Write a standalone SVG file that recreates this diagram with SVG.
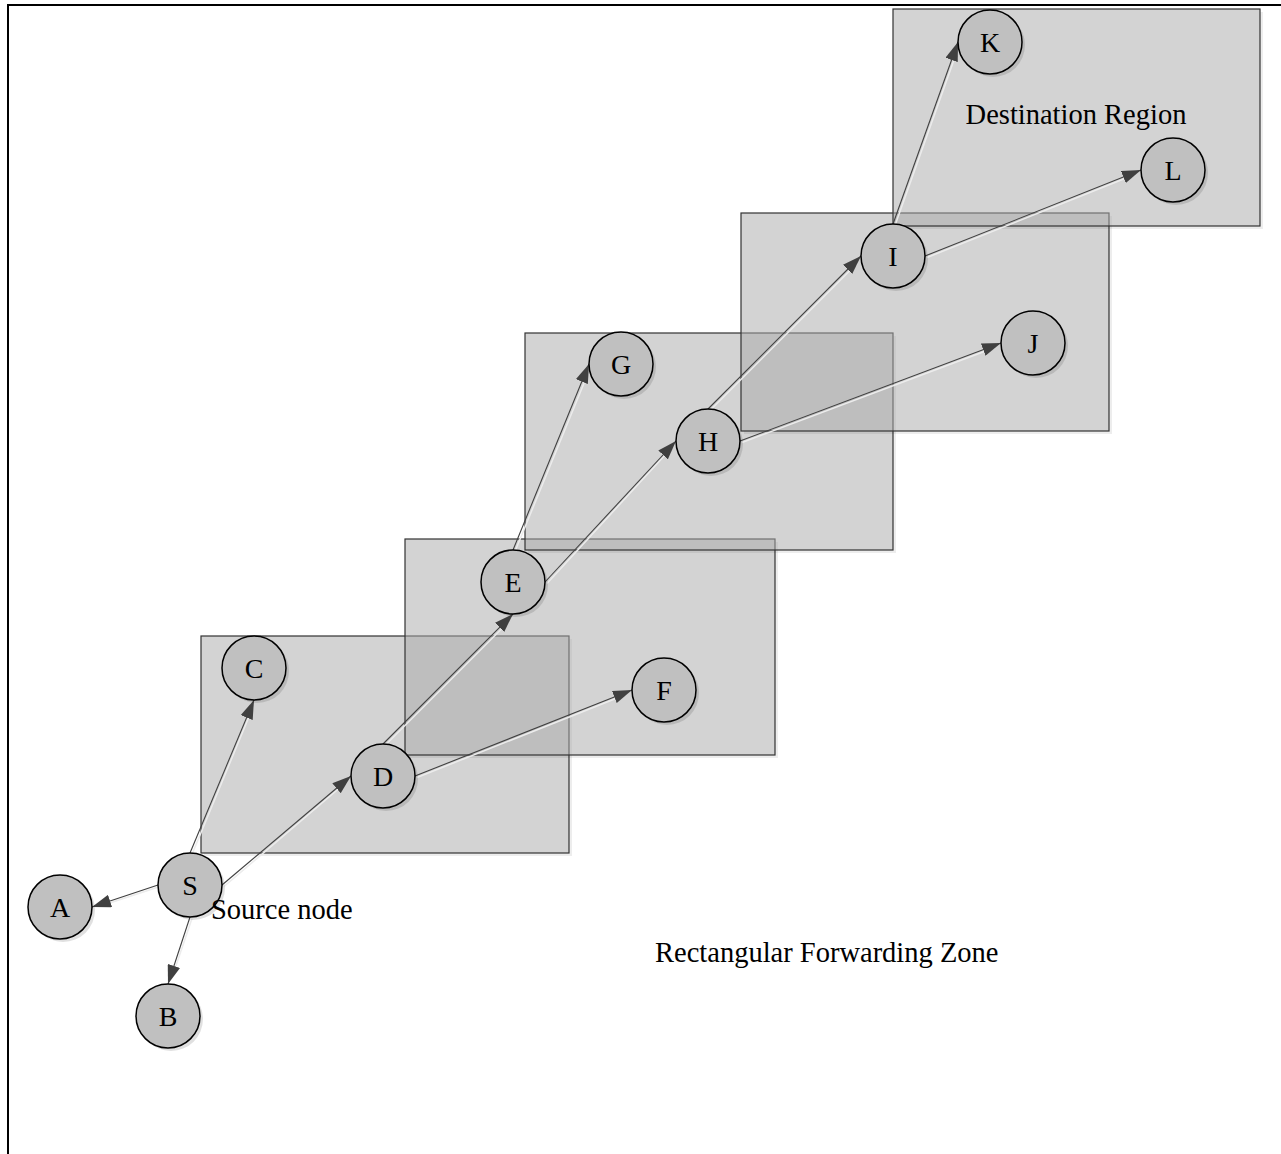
<svg xmlns="http://www.w3.org/2000/svg" width="1281" height="1154" viewBox="0 0 1281 1154">
<style>
.zone{fill:#aaaaaa;fill-opacity:0.52;stroke:#333;stroke-width:1.2}
.zsh{fill:#000;fill-opacity:0.07}
.node circle{fill:#c0c0c0;stroke:#000;stroke-width:1.5}
.node .nsh{fill:#000;opacity:0.12;stroke:none}
.lbl{font-family:"Liberation Serif","Times New Roman",serif;font-size:28px;fill:#000;text-anchor:middle}
.txt{font-family:"Liberation Serif","Times New Roman",serif;font-size:28.5px;fill:#000}
.edge line{stroke:#404040;stroke-width:1.1;fill:none}
.edge .sh line{stroke:#ececec;stroke-width:1.5}
</style>
<defs>
<marker id="arr" viewBox="0 0 19 13" refX="19" refY="6.5" markerWidth="19" markerHeight="13" markerUnits="userSpaceOnUse" orient="auto">
<path d="M0,0 L19,6.5 L0,13 Z" fill="#404040"/>
</marker>
</defs>
<rect width="1281" height="1154" fill="#fff"/>
<path d="M8,1154 L8,5 L1281,5" fill="none" stroke="#000" stroke-width="2"/>
<g id="zones">
<path class="zsh" d="M569,639 h3 v217 h-368 v-3 h365 Z"/>
<rect class="zone" x="201" y="636" width="368" height="217"/>
<path class="zsh" d="M775,542 h3 v216 h-370 v-3 h367 Z"/>
<rect class="zone" x="405" y="539" width="370" height="216"/>
<path class="zsh" d="M893,336 h3 v217 h-368 v-3 h365 Z"/>
<rect class="zone" x="525" y="333" width="368" height="217"/>
<path class="zsh" d="M1109,216 h3 v218 h-368 v-3 h365 Z"/>
<rect class="zone" x="741" y="213" width="368" height="218"/>
<path class="zsh" d="M1260,12 h3 v217 h-367 v-3 h364 Z"/>
<rect class="zone" x="893" y="9" width="367" height="217"/>
</g>
<g id="connectors" class="edge">
<g class="sh" transform="translate(2,1.5)">
<line x1="158" y1="885" x2="100" y2="904"/>
<line x1="190" y1="917" x2="170" y2="976"/>
<line x1="190" y1="853" x2="250" y2="708"/>
<line x1="222" y1="885" x2="344" y2="781"/>
<line x1="383" y1="744" x2="507" y2="620"/>
<line x1="415" y1="776" x2="624" y2="693"/>
<line x1="513" y1="550" x2="586" y2="372"/>
<line x1="545" y1="582" x2="670" y2="446"/>
<line x1="708" y1="409" x2="855" y2="262"/>
<line x1="740" y1="441" x2="993" y2="346"/>
<line x1="893" y1="224" x2="955" y2="50"/>
<line x1="925" y1="256" x2="1133" y2="173"/>
</g>
<line x1="158" y1="885" x2="92" y2="907" marker-end="url(#arr)"/>
<line x1="190" y1="917" x2="168" y2="984" marker-end="url(#arr)"/>
<line x1="190" y1="853" x2="254" y2="700" marker-end="url(#arr)"/>
<line x1="222" y1="885" x2="351" y2="776" marker-end="url(#arr)"/>
<line x1="383" y1="744" x2="513" y2="614" marker-end="url(#arr)"/>
<line x1="415" y1="776" x2="632" y2="690" marker-end="url(#arr)"/>
<line x1="513" y1="550" x2="589" y2="364" marker-end="url(#arr)"/>
<line x1="545" y1="582" x2="676" y2="441" marker-end="url(#arr)"/>
<line x1="708" y1="409" x2="861" y2="256" marker-end="url(#arr)"/>
<line x1="740" y1="441" x2="1001" y2="343" marker-end="url(#arr)"/>
<line x1="893" y1="224" x2="958" y2="42" marker-end="url(#arr)"/>
<line x1="925" y1="256" x2="1141" y2="170" marker-end="url(#arr)"/>
</g>
<g id="node-S" class="node"><circle class="nsh" cx="193" cy="888" r="32"/><circle cx="190" cy="885" r="32"/><text class="lbl" x="190" y="894.5">S</text></g>
<g id="node-A" class="node"><circle class="nsh" cx="63" cy="910" r="32"/><circle cx="60" cy="907" r="32"/><text class="lbl" x="60" y="916.5">A</text></g>
<g id="node-B" class="node"><circle class="nsh" cx="171" cy="1019" r="32"/><circle cx="168" cy="1016" r="32"/><text class="lbl" x="168" y="1025.5">B</text></g>
<g id="node-C" class="node"><circle class="nsh" cx="257" cy="671" r="32"/><circle cx="254" cy="668" r="32"/><text class="lbl" x="254" y="677.5">C</text></g>
<g id="node-D" class="node"><circle class="nsh" cx="386" cy="779" r="32"/><circle cx="383" cy="776" r="32"/><text class="lbl" x="383" y="785.5">D</text></g>
<g id="node-E" class="node"><circle class="nsh" cx="516" cy="585" r="32"/><circle cx="513" cy="582" r="32"/><text class="lbl" x="513" y="591.5">E</text></g>
<g id="node-F" class="node"><circle class="nsh" cx="667" cy="693" r="32"/><circle cx="664" cy="690" r="32"/><text class="lbl" x="664" y="699.5">F</text></g>
<g id="node-G" class="node"><circle class="nsh" cx="624" cy="367" r="32"/><circle cx="621" cy="364" r="32"/><text class="lbl" x="621" y="373.5">G</text></g>
<g id="node-H" class="node"><circle class="nsh" cx="711" cy="444" r="32"/><circle cx="708" cy="441" r="32"/><text class="lbl" x="708" y="450.5">H</text></g>
<g id="node-I" class="node"><circle class="nsh" cx="896" cy="259" r="32"/><circle cx="893" cy="256" r="32"/><text class="lbl" x="893" y="265.5">I</text></g>
<g id="node-J" class="node"><circle class="nsh" cx="1036" cy="346" r="32"/><circle cx="1033" cy="343" r="32"/><text class="lbl" x="1033" y="352.5">J</text></g>
<g id="node-K" class="node"><circle class="nsh" cx="993" cy="45" r="32"/><circle cx="990" cy="42" r="32"/><text class="lbl" x="990" y="51.5">K</text></g>
<g id="node-L" class="node"><circle class="nsh" cx="1176" cy="173" r="32"/><circle cx="1173" cy="170" r="32"/><text class="lbl" x="1173" y="179.5">L</text></g>
<g id="labels">
<text class="txt" x="1076" y="124" text-anchor="middle">Destination Region</text>
<text class="txt" x="211" y="919">Source node</text>
<text class="txt" x="655" y="962">Rectangular Forwarding Zone</text>
</g>
</svg>
